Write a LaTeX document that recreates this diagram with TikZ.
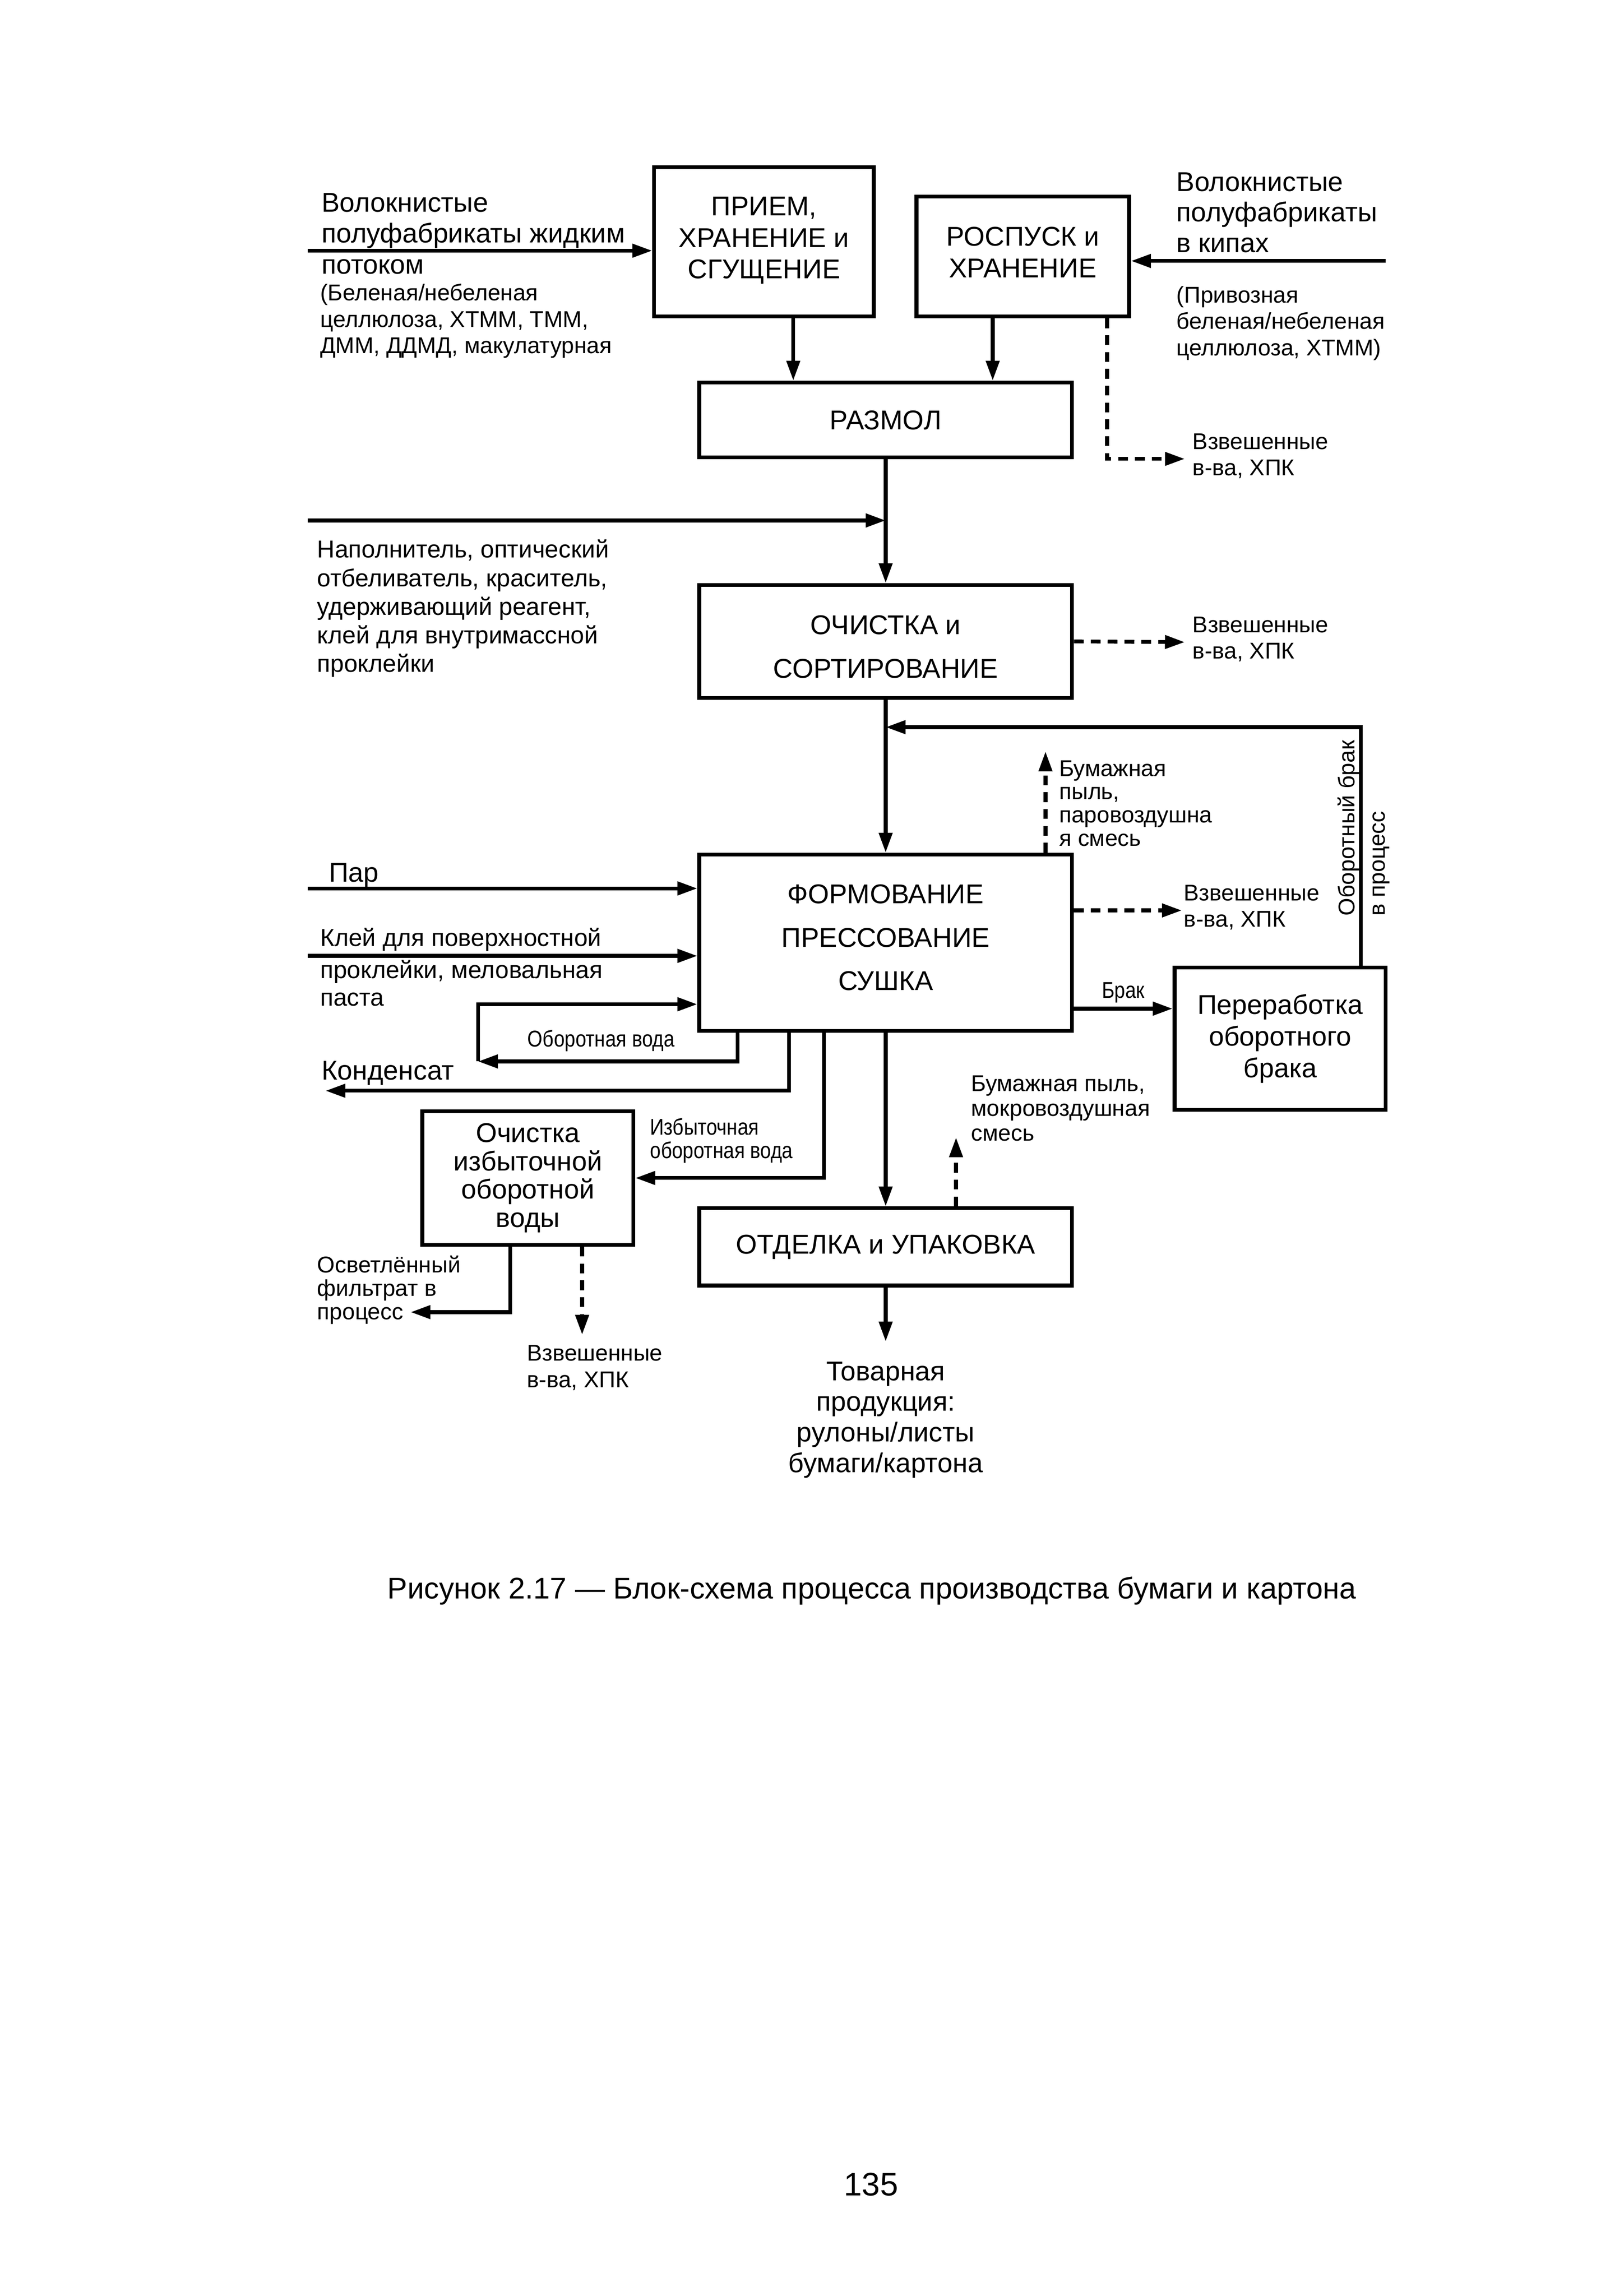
\documentclass[tikz,border=0pt]{standalone}
\usepackage{fontspec}
\setmainfont{Liberation Sans}
\newfontfamily\narrowfont[FakeStretch=0.85]{Liberation Sans}
\usetikzlibrary{arrows.meta,calc}

\tikzset{
  block/.style={draw, line width=1.4pt, inner sep=0pt, align=center,
    font=\fontsize{10}{11.6}\selectfont},
  flow/.style={line width=1.4pt, -{Triangle[length=7.3pt,width=4.8pt]}},
  waste/.style={flow, dash pattern=on 3.6pt off 2.6pt},
  txt/.style={inner sep=0pt, anchor=west, align=left, font=\fontsize{10}{11.3}\selectfont},
  note/.style={txt, font=\fontsize{8.4}{9.7}\selectfont},
  tiny/.style={txt, font=\narrowfont\fontsize{8.4}{9.2}\selectfont},
}

\begin{document}
\begin{tikzpicture}[x=0.1896mm, y=-0.1896mm]
\useasboundingbox (0,0) rectangle (1107.4,1566.1);

% blocks
\node[block, minimum width=28.4mm, minimum height=19.3mm] (priem) at (521,165) {ПРИЕМ,\\ХРАНЕНИЕ и\\СГУЩЕНИЕ\rule[-3pt]{0pt}{0pt}};
\node[block, minimum width=27.5mm, minimum height=15.5mm] (rospusk) at (697.5,175) {РОСПУСК и\\ХРАНЕНИЕ\rule[-3.2pt]{0pt}{0pt}};
\node[block, minimum width=48.2mm, minimum height=9.7mm] (razmol) at (604,286.5) {РАЗМОЛ};
\node[block, minimum width=48.2mm, minimum height=14.6mm] (ochistka) at (604,437.5) {\rule{0pt}{11pt}ОЧИСТКА и\\[4.4pt]СОРТИРОВАНИЕ};
\node[block, minimum width=48.2mm, minimum height=22.8mm] (formov) at (604,643) {ФОРМОВАНИЕ\\[4.4pt]ПРЕССОВАНИЕ\\[4.4pt]СУШКА\rule[-3.8pt]{0pt}{0pt}};
\node[block, minimum width=27.3mm, minimum height=18.4mm] (pererab) at (873,708.5) {Переработка\\оборотного\\брака};
\node[block, minimum width=27.3mm, minimum height=17.3mm] (ochvody) at (360,803.5) {Очистка\\[-1.2pt]избыточной\\[-1.2pt]оборотной\\[-1.2pt]воды};
\node[block, minimum width=48.2mm, minimum height=10mm] (otdelka) at (604,850.5) {ОТДЕЛКА и УПАКОВКА};

% free ends
\coordinate (in1) at (210,171);
\coordinate (in2) at (945,178);
\coordinate (in3) at (210,355);
\coordinate (in4) at (210,606);
\coordinate (in5) at (210,652);
\coordinate (w1) at (808,313);
\coordinate (w2) at (808,438);
\coordinate (w3) at (806,621);
\coordinate (ret) at (604,496);
\coordinate (lp) at (326,724);
\coordinate (cond) at (222,744);
\coordinate (filt) at (280,895);
\coordinate (brak) at (731,688);
\coordinate (prodin) at (604,915);

% main line
\draw[flow] (in1) -- (in1 -| priem.west);
\draw[flow] (in2) -- (in2 -| rospusk.east);
\draw[flow] ($(priem.south)+(20,0)$) -- ($(razmol.north)+(-63,0)$);
\draw[flow] ($(rospusk.south)+(-20.5,0)$) -- ($(razmol.north)+(73,0)$);
\draw[waste] ($(rospusk.south)+(57.5,0)$) |- (w1);
\draw[flow] (razmol.south) -- (ochistka.north);
\draw[flow] (in3) -- (in3 -| razmol.south);
\draw[waste] (ochistka.east) -- (w2);
\draw[flow] (ochistka.south) -- (formov.north);
\draw[flow] ($(pererab.north)+(55,0)$) |- (ret);
\draw[waste] ($(formov.north)+(109,0)$) -- ++(0,-69);
\draw[flow] (in4) -- (in4 -| formov.west);
\draw[flow] (in5) -- (in5 -| formov.west);
\draw[waste] (formov.east |- w3) -- (w3);
\draw[flow] (brak) -- (brak -| pererab.west);
\draw[flow] ($(formov.south)+(-101,0)$) |- (lp);
\draw[flow] (lp) |- ($(formov.west)+(0,42)$);
\draw[flow] ($(formov.south)+(-66,0)$) |- (cond);
\draw[flow] ($(formov.south)+(-42,0)$) |- (ochvody.east);
\draw[flow] (formov.south) -- (otdelka.north);
\draw[waste] ($(otdelka.north)+(48,0)$) -- ++(0,-47);
\draw[flow] ($(ochvody.south)+(-12,0)$) |- (filt);
\draw[waste] ($(ochvody.south)+(37,0)$) -- ++(0,60);
\draw[flow] (otdelka.south) -- (prodin);

% labels
\node[txt] (fibL) at (219,150.5) {Волокнистые\\полуфабрикаты жидким};
\node[txt] (potok) at (219,182) {потоком};
\node[note] (fibLnote) at (218,219) {(Беленая/небеленая\\целлюлоза, ХТММ, ТММ,\\ДММ, ДДМД, макулатурная};
\node[txt] (fibR) at (802,145) {Волокнистые\\полуфабрикаты\\в кипах};
\node[note] (fibRnote) at (802,220.5) {(Привозная\\беленая/небеленая\\целлюлоза, ХТММ)};
\node[note] (susp1) at (813,311) {Взвешенные\\в-ва, ХПК};
\node[txt, font=\fontsize{9}{10.5}\selectfont] (addit) at (216,415) {Наполнитель, оптический\\отбеливатель, краситель,\\удерживающий реагент,\\клей для внутримассной\\проклейки};
\node[note] (susp2) at (813,436) {Взвешенные\\в-ва, ХПК};
\node[note, font=\fontsize{8.4}{8.6}\selectfont] (dust1) at (722,548) {Бумажная\\пыль,\\паровоздушна\\я смесь};
\node[note, rotate=90, font=\fontsize{8.4}{11}\selectfont] (broke) at (930,625) {Оборотный брак\\в процесс};
\node[txt] (steam) at (224,597) {Пар};
\node[txt, font=\fontsize{9}{10.2}\selectfont] (glue1) at (218,641) {Клей для поверхностной};
\node[txt, font=\fontsize{9}{10.2}\selectfont] (glue2) at (218,670.5) {проклейки, меловальная\\паста};
\node[note] (susp3) at (807,619) {Взвешенные\\в-ва, ХПК};
\node[tiny, anchor=center] (brakt) at (766,677) {Брак};
\node[tiny, anchor=center] (loopt) at (410,710) {Оборотная вода};
\node[txt] (condt) at (219,732) {Конденсат};
\node[tiny, font=\narrowfont\fontsize{8.4}{8.6}\selectfont] (excess) at (443,778) {Избыточная\\оборотная вода};
\node[note, font=\fontsize{8.4}{9.1}\selectfont] (dust2) at (662,756) {Бумажная пыль,\\мокровоздушная\\смесь};
\node[note, font=\fontsize{8.4}{8.6}\selectfont] (filtt) at (216,880) {Осветлённый\\фильтрат в\\процесс};
\node[note] (susp4) at (359,933) {Взвешенные\\в-ва, ХПК};
\node[txt, anchor=center, align=center] (prod) at (604,968.5) {Товарная\\продукция:\\рулоны/листы\\бумаги/картона};

% caption and page
\node[inner sep=0pt, font=\fontsize{11}{13}\selectfont] (caption) at (594.5,1085) {Рисунок 2.17 — Блок-схема процесса производства бумаги и картона};
\node[inner sep=0pt, font=\fontsize{12}{14}\selectfont] (page) at (594,1490) {135};
\end{tikzpicture}
\end{document}
